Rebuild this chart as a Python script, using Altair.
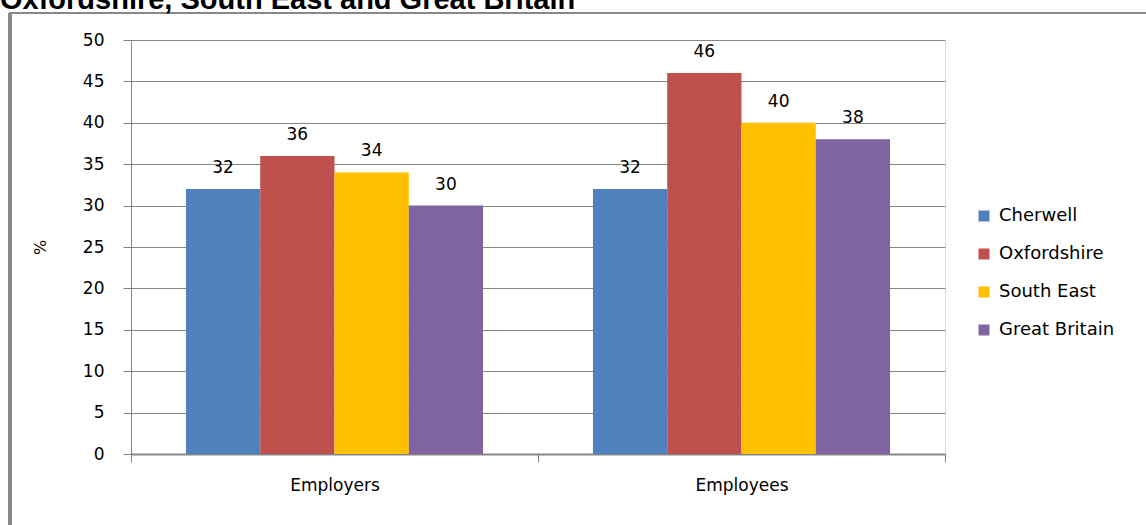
import altair as alt
import pandas as pd

categories = ["Employers", "Employees"]
series = ["Cherwell", "Oxfordshire", "South East", "Great Britain"]
colors = ["#4F81BD", "#C0504D", "#FFC000", "#8064A2"]
employers = [32, 36, 34, 30]
employees = [32, 46, 40, 38]
title_text = "Oxfordshire, South East and Great Britain"

rows = []
for s, v in zip(series, employers):
    rows.append({"cat": "Employers", "series": s, "value": v})
for s, v in zip(series, employees):
    rows.append({"cat": "Employees", "series": s, "value": v})
df = pd.DataFrame(rows)

FONT = "DejaVu Sans"
W, H = 814, 414
PL, PT = 131, 40

x = alt.X("cat:N", sort=categories, title=None,
          scale=alt.Scale(paddingInner=0, paddingOuter=0),
          axis=alt.Axis(labelAngle=0, tickBand="extent", domainColor="#868686",
                        domainWidth=2, tickColor="#868686", tickSize=8,
                        labelFont=FONT, labelFontSize=17, labelColor="black",
                        labelPadding=15, grid=False))
xoff = alt.XOffset("series:N", sort=series,
                   scale=alt.Scale(paddingInner=0, paddingOuter=0.74))
y = alt.Y("value:Q", title="%",
          scale=alt.Scale(domain=[0, 50], nice=False),
          axis=alt.Axis(values=list(range(0, 55, 5)), grid=True, gridColor="#868686",
                        domain=True, domainColor="#868686", tickColor="#868686",
                        tickSize=8, labelFont=FONT, labelFontSize=17, labelColor="black",
                        labelPadding=19, titleFont=FONT, titleFontSize=16,
                        titleFontWeight="normal", titleColor="black",
                        titleX=-91, titleY=207, titleAlign="center",
                        titleBaseline="middle", titleAngle=270))

color = alt.Color("series:N", sort=series,
                  scale=alt.Scale(domain=series, range=colors),
                  legend=alt.Legend(title=None, orient="none", legendX=844, legendY=167,
                                    symbolType="square", symbolSize=121,
                                    symbolStrokeWidth=0, symbolOpacity=1,
                                    labelFont=FONT, labelFontSize=18, labelColor="black",
                                    labelOffset=6, rowPadding=20, padding=0))

bars = alt.Chart(df).mark_bar(opacity=1).encode(x=x, xOffset=xoff, y=y, color=color)
labels = alt.Chart(df).mark_text(dy=-21, font=FONT, fontSize=17, color="black").encode(
    x=x, xOffset=xoff, y=y, text="value:Q")

frame_left = alt.Chart(df).mark_rule(color="#888888", strokeWidth=3).encode(
    x=alt.value(-121), y=alt.value(-27), y2=alt.value(H + 200))
frame_top = alt.Chart(df).mark_rule(color="#888888", strokeWidth=2).encode(
    x=alt.value(-122), x2=alt.value(W + 300), y=alt.value(-27))

title_mark = alt.Chart(pd.DataFrame({"t": [title_text]})).mark_text(
    font="Liberation Sans", fontSize=29, fontWeight="bold", color="black",
    align="left", baseline="alphabetic").encode(
    text="t:N", x=alt.value(-131), y=alt.value(-31))

chart = alt.layer(frame_left, frame_top, bars, labels, title_mark).properties(
    width=W, height=H,
    autosize=alt.AutoSizeParams(type="none"),
    padding={"left": PL, "top": PT, "right": 1146 - PL - W, "bottom": 525 - PT - H},
).configure_view(stroke=None).configure(background="white")

chart.save("out.html", embed_options={"renderer": "svg", "actions": False})
